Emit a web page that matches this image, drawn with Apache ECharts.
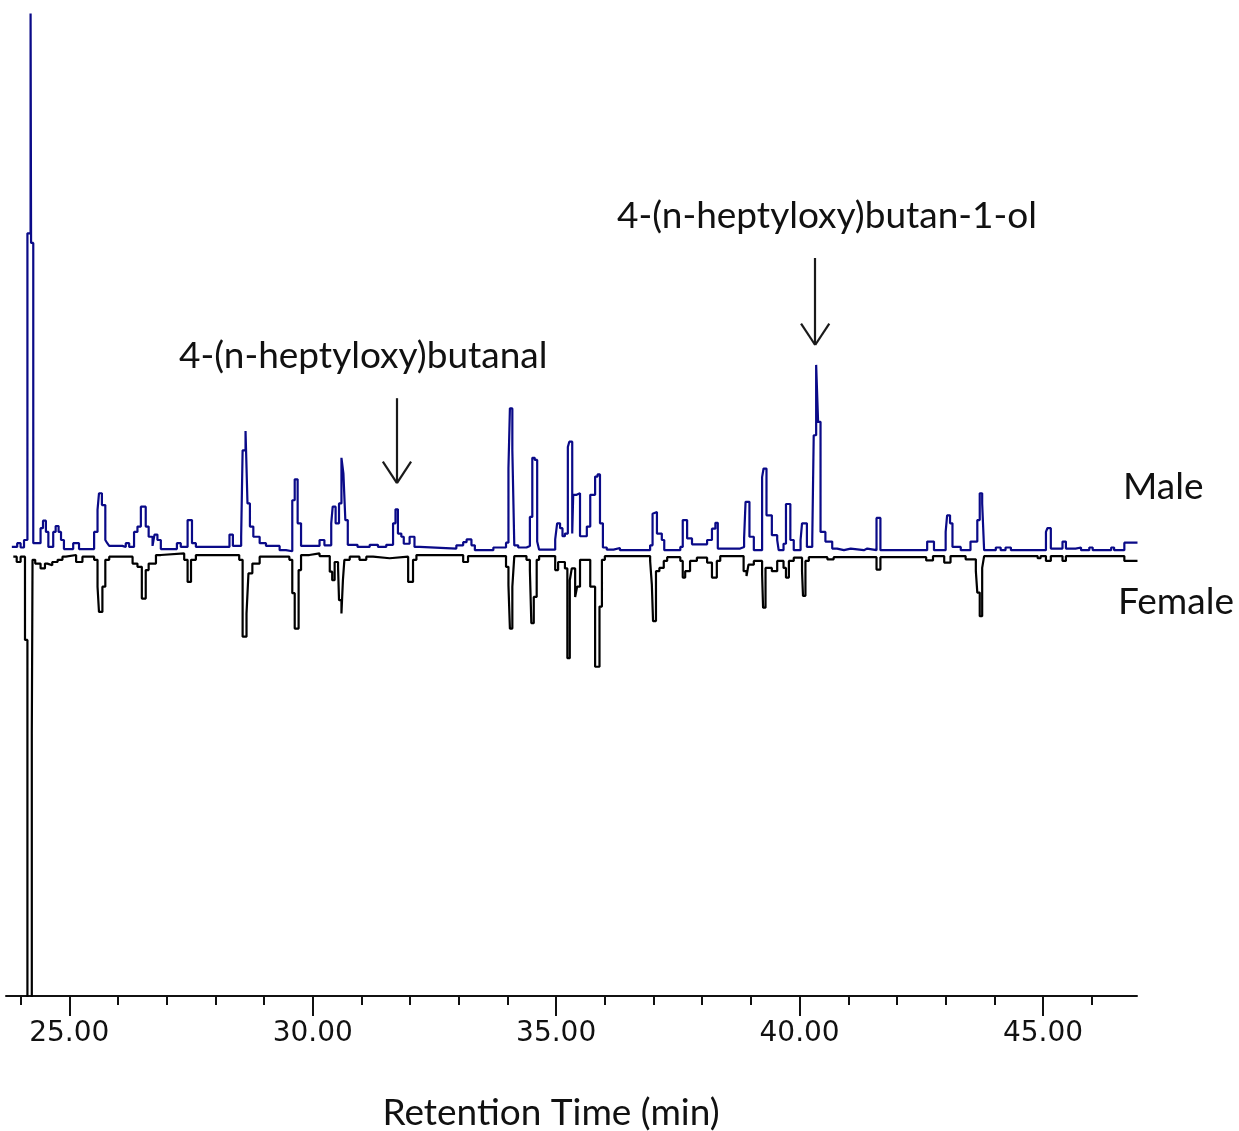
<!DOCTYPE html>
<html><head><meta charset="utf-8">
<script src="https://cdn.jsdelivr.net/npm/echarts@6/dist/echarts.min.js"></script>
<style>html,body{margin:0;padding:0;background:#fff}#c{width:1239px;height:1131px}</style>
</head><body><div id="c"></div>
<script>
// Tick values (minutes)
const majorTicks = [25, 30, 35, 40, 45];
const minorTicks = [24, 26, 27, 28, 29, 31, 32, 33, 34, 36, 37, 38, 39, 41, 42, 43, 44, 46];

// Male trace: [retention time (min), relative abundance]; each value holds until the next time
const maleTrace = [[23.82,0.4],[23.93,1.1],[24.00,0.3],[24.07,1.7],[24.14,58.8],[24.205,99.7],[24.215,57.0],[24.26,1.1],[24.41,3.9],[24.46,5.3],[24.52,3.2],[24.57,0.4],[24.67,3.2],[24.72,4.3],[24.78,3.2],[24.83,1.7],[24.89,0.0],[25.08,1.1],[25.20,0.0],[25.51,3.2],[25.58,7.3],[25.61,10.4],[25.67,8.2],[25.74,1.7],[25.78,1.1],[25.82,0.6],[26.09,0.4],[26.16,1.1],[26.23,0.4],[26.33,3.2],[26.40,4.2],[26.47,7.9],[26.57,4.2],[26.63,2.3],[26.71,0.6],[26.75,2.7],[26.81,1.7],[26.88,0.0],[27.21,1.1],[27.29,0.4],[27.43,5.4],[27.52,1.1],[27.60,0.4],[28.29,2.7],[28.36,0.6],[28.53,2.3],[28.56,18.4],[28.62,22.0],[28.66,8.5],[28.71,4.2],[28.78,2.3],[28.91,1.1],[29.04,0.6],[29.32,-0.2],[29.45,-0.4],[29.58,9.1],[29.63,13.0],[29.69,4.8],[29.76,0.6],[29.93,0.6],[30.14,1.7],[30.24,0.7],[30.38,4.8],[30.41,7.9],[30.47,4.8],[30.54,8.5],[30.59,17.0],[30.63,14.1],[30.67,5.4],[30.72,0.8],[30.92,0.4],[31.17,0.8],[31.34,0.4],[31.51,0.8],[31.65,4.8],[31.70,7.4],[31.75,2.9],[31.82,2.3],[31.87,1.0],[31.99,2.3],[32.09,0.4],[32.20,0.1],[32.95,0.7],[33.09,1.3],[33.16,1.8],[33.26,0.7],[33.33,-0.2],[33.71,0.3],[33.97,1.2],[34.02,15.0],[34.05,26.2],[34.10,18.4],[34.14,0.7],[34.22,0.3],[34.39,0.6],[34.46,6.0],[34.51,17.0],[34.56,16.6],[34.61,1.4],[34.65,-0.1],[34.98,1.8],[35.02,4.8],[35.08,3.9],[35.13,2.4],[35.18,2.9],[35.24,19.0],[35.27,20.0],[35.33,2.9],[35.35,10.1],[35.42,10.4],[35.49,2.4],[35.63,4.2],[35.70,10.1],[35.80,13.5],[35.85,13.9],[35.90,4.8],[35.96,0.3],[36.04,-0.1],[36.18,0.2],[36.31,-0.2],[36.93,0.7],[36.98,6.6],[37.01,6.9],[37.07,2.9],[37.17,1.7],[37.22,-0.2],[37.55,0.4],[37.60,5.4],[37.69,2.0],[37.79,0.9],[38.10,1.7],[38.20,3.8],[38.27,4.9],[38.32,0.1],[38.78,0.4],[38.86,2.0],[38.89,8.8],[38.97,2.3],[39.06,-0.2],[39.23,13.4],[39.26,15.0],[39.32,6.3],[39.43,2.6],[39.54,1.7],[39.57,-0.2],[39.67,1.0],[39.72,8.4],[39.81,1.7],[39.88,-0.2],[40.02,1.7],[40.05,4.8],[40.15,0.4],[40.26,1.7],[40.29,21.2],[40.34,34.3],[40.38,23.7],[40.43,3.2],[40.53,1.4],[40.67,0.1],[40.77,-0.2],[40.91,0.1],[41.05,-0.2],[41.32,0.1],[41.39,-0.2],[41.58,5.8],[41.66,-0.2],[42.62,1.4],[42.76,-0.2],[43.00,3.2],[43.03,6.3],[43.09,4.8],[43.14,0.4],[43.31,-0.2],[43.51,1.4],[43.65,5.4],[43.70,10.4],[43.75,8.5],[43.79,-0.2],[44.03,0.3],[44.13,-0.2],[44.23,0.3],[44.34,-0.2],[45.06,3.2],[45.09,3.9],[45.16,0.1],[45.40,1.4],[45.47,0.1],[45.67,0.3],[45.78,-0.2],[45.95,0.3],[46.02,-0.2],[46.40,0.3],[46.46,-0.2],[46.67,1.2],[46.94,1.2]];

// Female trace (plotted downward): [retention time (min), relative abundance]
const femaleTrace = [[23.85,0.1],[23.92,1.1],[24.00,0.1],[24.09,15.6],[24.14,95],[24.23,33.0],[24.245,0.7],[24.30,1.4],[24.41,2.3],[24.50,1.4],[24.55,1.7],[24.65,1.1],[24.76,0.7],[24.86,0.1],[24.93,-0.2],[25.14,1.1],[25.27,0.1],[25.51,0.7],[25.58,5.7],[25.61,10.4],[25.68,5.7],[25.74,0.7],[25.82,0.1],[26.30,1.4],[26.40,2.0],[26.49,7.9],[26.57,2.6],[26.63,1.4],[26.78,-0.2],[26.88,-0.5],[27.36,0.7],[27.43,4.8],[27.50,0.7],[27.60,-0.2],[28.49,0.7],[28.56,15.0],[28.64,10.7],[28.68,3.2],[28.76,1.4],[28.91,0.1],[29.52,0.7],[29.58,6.9],[29.63,13.5],[29.71,2.6],[29.76,-0.2],[29.93,-0.5],[30.14,0.0],[30.35,2.9],[30.40,4.5],[30.45,1.1],[30.52,2.0],[30.54,8.2],[30.59,10.7],[30.62,4.5],[30.65,0.7],[30.76,0.1],[30.96,0.7],[31.10,0.1],[31.24,0.4],[31.58,0.1],[31.96,4.8],[32.06,0.7],[32.13,-0.2],[33.09,1.1],[33.19,0.0],[33.97,2.0],[34.02,5.4],[34.05,13.5],[34.10,5.7],[34.14,0.0],[34.39,0.7],[34.46,2.6],[34.49,12.5],[34.54,7.6],[34.60,0.7],[34.65,0.0],[34.98,2.6],[35.04,1.1],[35.18,2.3],[35.23,19.0],[35.28,4.5],[35.32,2.3],[35.39,7.6],[35.43,5.7],[35.49,0.7],[35.70,5.7],[35.80,20.6],[35.89,9.4],[35.94,0.7],[36.00,0.0],[36.93,0.9],[36.965,5.3],[36.99,12.1],[37.05,2.8],[37.12,2.2],[37.21,0.9],[37.28,0.2],[37.55,0.9],[37.60,4.0],[37.65,2.8],[37.75,0.9],[37.89,0.3],[38.10,1.2],[38.20,4.0],[38.30,0.9],[38.37,0.0],[38.85,2.8],[38.91,3.7],[38.95,1.6],[39.06,0.9],[39.23,3.4],[39.25,9.6],[39.30,2.2],[39.43,2.8],[39.54,0.9],[39.67,2.2],[39.72,4.0],[39.78,0.9],[39.88,0.3],[40.05,2.8],[40.07,7.4],[40.12,0.9],[40.19,0.2],[40.57,0.6],[40.70,0.2],[41.58,2.5],[41.66,0.2],[42.60,0.8],[42.74,0.0],[42.97,1.2],[43.10,0.0],[43.41,0.6],[43.62,2.8],[43.65,6.8],[43.70,11.2],[43.75,2.2],[43.79,0.0],[44.89,0.4],[44.95,0.0],[45.06,0.9],[45.16,0.0],[45.40,0.9],[45.47,0.0],[46.67,0.9],[46.94,0.9]];

// Annotation arrows (data units of the male trace): time, tip value, tail value
const arrowTimes = [31.73, 40.32];
const arrowTips = [12.3, 38.0];
const arrowTails = [28.1, 54.2];
const compoundNames = ['4-(n-heptyloxy)butanal', '4-(n-heptyloxy)butan-1-ol'];
const traceNames = ['Male', 'Female'];

const HEAD_DX = 0.29, HEAD_DY = 4.0;
const arrowSegs = [];
arrowTimes.forEach((t, i) => {
  arrowSegs.push([{coord: [t, arrowTails[i]]}, {coord: [t, arrowTips[i]]}]);
  arrowSegs.push([{coord: [t - HEAD_DX, arrowTips[i] + HEAD_DY]}, {coord: [t, arrowTips[i]]}]);
  arrowSegs.push([{coord: [t + HEAD_DX, arrowTips[i] + HEAD_DY]}, {coord: [t, arrowTips[i]]}]);
});

const TXT_FONT = 'Lato';
const chart = echarts.init(document.getElementById('c'), null, {renderer: 'canvas'});
const X_MIN = 23.70, X_MAX = 46.93;
chart.setOption({
  animation: false,
  backgroundColor: '#ffffff',
  grid: {left: 6, right: 102, top: 12, bottom: 135, containLabel: false},
  xAxis: [
    {type: 'value', min: X_MIN, max: X_MAX, position: 'bottom',
     axisLine: {show: true, onZero: false, lineStyle: {color: '#111', width: 2}},
     axisTick: {show: true, customValues: minorTicks, length: 9, lineStyle: {color: '#111', width: 2}},
     axisLabel: {show: false}, splitLine: {show: false}},
    {type: 'value', min: X_MIN, max: X_MAX, position: 'bottom',
     axisLine: {show: false, onZero: false},
     axisTick: {show: true, customValues: majorTicks, length: 20, lineStyle: {color: '#111', width: 2}},
     axisLabel: {show: true, customValues: majorTicks, formatter: v => Number(v).toFixed(2),
       fontFamily: 'DejaVu Sans', fontSize: 28, color: '#111', margin: 24},
     splitLine: {show: false}}
  ],
  yAxis: [
    {type: 'value', min: -83.2, max: 100, show: false},
    {type: 'value', min: -101.3, max: 81.9, inverse: true, show: false}
  ],
  series: [
    {name: traceNames[1], type: 'line', step: 'end', data: femaleTrace, xAxisIndex: 0, yAxisIndex: 1,
     showSymbol: false, symbol: 'none', clip: true, lineStyle: {color: '#000000', width: 2.2}, z: 2},
    {name: traceNames[0], type: 'line', step: 'end', data: maleTrace, xAxisIndex: 0, yAxisIndex: 0,
     showSymbol: false, symbol: 'none', clip: true, lineStyle: {color: '#0a0a88', width: 2.2}, z: 3,
     markLine: {silent: true, symbol: ['none', 'none'], label: {show: false},
       lineStyle: {color: '#1a1a1a', width: 2.2, type: 'solid'}, emphasis: {disabled: true},
       data: arrowSegs}}
  ],
  graphic: [
    {type: 'text', x: 617, y: 216, style: {text: compoundNames[1], font: '37px ' + TXT_FONT, fill: '#111', textAlign: 'left', textVerticalAlign: 'middle', align: 'left', verticalAlign: 'middle'}},
    {type: 'text', x: 179, y: 356, style: {text: compoundNames[0], font: '37px ' + TXT_FONT, fill: '#111', textAlign: 'left', textVerticalAlign: 'middle', align: 'left', verticalAlign: 'middle'}},
    {type: 'text', x: 1123, y: 487, style: {text: traceNames[0], font: '37px ' + TXT_FONT, fill: '#111', textAlign: 'left', textVerticalAlign: 'middle', align: 'left', verticalAlign: 'middle'}},
    {type: 'text', x: 1118, y: 602, style: {text: traceNames[1], font: '37px ' + TXT_FONT, fill: '#111', textAlign: 'left', textVerticalAlign: 'middle', align: 'left', verticalAlign: 'middle'}},
    {type: 'text', x: 551, y: 1113, style: {text: 'Retention Time (min)', font: '37px ' + TXT_FONT, fill: '#111', textAlign: 'center', textVerticalAlign: 'middle', align: 'center', verticalAlign: 'middle'}}
  ]
});
</script>
</body></html>
